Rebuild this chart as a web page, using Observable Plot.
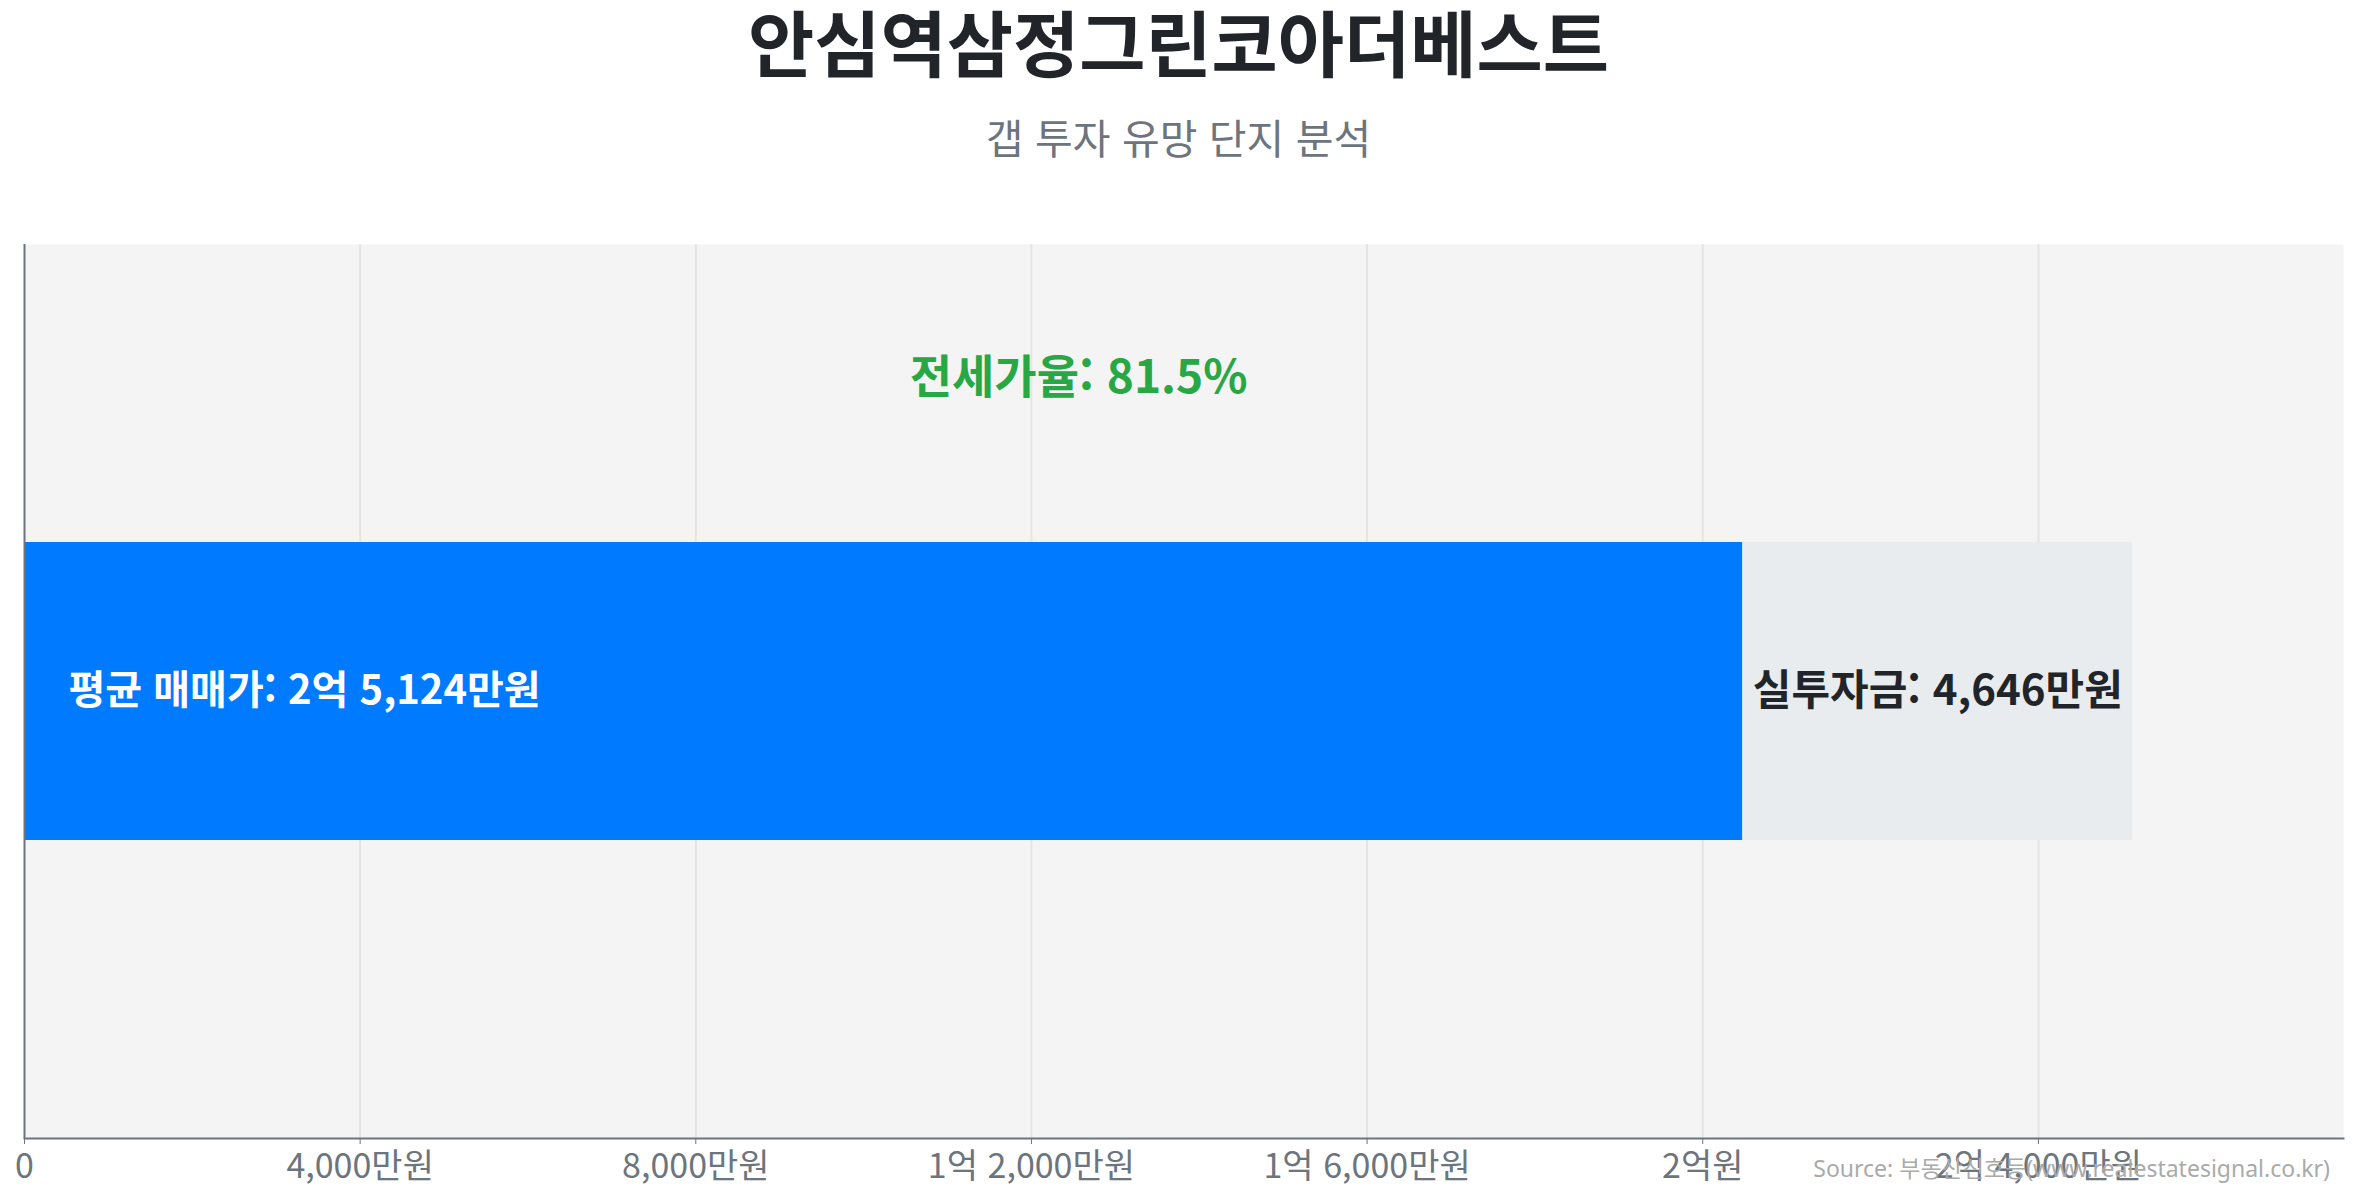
<!DOCTYPE html>
<html lang="ko">
<head>
<meta charset="utf-8">
<script src="https://cdn.jsdelivr.net/npm/d3@7"></script>
<script src="https://cdn.jsdelivr.net/npm/@observablehq/plot@0.6"></script>
<style>
  html, body { margin: 0; padding: 0; background: #ffffff; overflow: hidden; }
  body { width: 2357px; height: 1200px; position: relative;
         font-family: "Noto Sans CJK KR", "Noto Sans", sans-serif; }
  #title { position: absolute; left: 0; width: 2357px; top: 0px; text-align: center;
           font-size: 72px; font-weight: 700; color: #212529; line-height: 80px; }
  #subtitle { position: absolute; left: 0; width: 2357px; top: 111px; text-align: center;
           font-size: 41px; font-weight: 400; color: #6c757d; line-height: 50px; }
  #chart { position: absolute; left: 0; top: 200px; }
  #source { position: absolute; right: 27px; top: 1150px; font-size: 23px; color: #aaaaaa;
           font-family: "Noto Sans", "Noto Sans CJK KR", sans-serif; }
</style>
</head>
<body>
<div id="title">안심역삼정그린코아더베스트</div>
<div id="subtitle">갭 투자 유망 단지 분석</div>
<div id="chart"></div>
<div id="source">Source: 부동산신호등(www.realestatesignal.co.kr)</div>
<script>
// ---- data (단위: 만원) ----
const complexNames = ["안심역삼정그린코아더베스트"];
const salePrices = [25124];      // 평균 매매가
const jeonsePrices = [20478];    // 평균 전세가
const gapAmounts = [4646];       // 실투자금
const jeonseRatios = [81.5];     // 전세가율 (%)
const xTicks = [0, 4000, 8000, 12000, 16000, 20000, 24000];
const xMax = 27636;

const fmtWon = (v) => {
  if (v === 0) return "0";
  const eok = Math.floor(v / 10000);
  const man = v % 10000;
  const manStr = man.toLocaleString("en-US");
  if (eok === 0) return manStr + "만원";
  if (man === 0) return eok + "억원";
  return eok + "억 " + manStr + "만원";
};

const segments = [];
const labels = [];
complexNames.forEach((name, i) => {
  segments.push({name, x1: 0, x2: jeonsePrices[i], part: "jeonse"});
  segments.push({name, x1: jeonsePrices[i], x2: salePrices[i], part: "gap"});
  labels.push({name, sale: salePrices[i], jeonse: jeonsePrices[i], gap: gapAmounts[i], ratio: jeonseRatios[i]});
});

const font = '"Noto Sans CJK KR", "Noto Sans", sans-serif';

const chart = Plot.plot({
  width: 2357,
  height: 1000,
  marginTop: 44,
  marginBottom: 62,
  marginLeft: 24,
  marginRight: 14,
  style: {fontFamily: font, background: "transparent", overflow: "visible"},
  x: {domain: [0, xMax], axis: null},
  y: {domain: complexNames, padding: 0.5, axis: null},
  marks: [
    Plot.frame({fill: "#f4f4f4", stroke: null}),
    Plot.gridX(xTicks.slice(1), {stroke: "#e4e4e4", strokeOpacity: 1, strokeWidth: 2}),
    Plot.barX(segments, {
      x1: "x1", x2: "x2", y: "name",
      fill: d => d.part === "jeonse" ? "#007bff" : "#e9ecef"
    }),
    Plot.text(labels, {
      x: () => 0, y: "name", dx: 44, textAnchor: "start",
      text: d => "평균 매매가: " + fmtWon(d.sale),
      fill: "#ffffff", fontSize: 40, fontWeight: 700
    }),
    Plot.text(labels, {
      x: d => (d.jeonse + d.sale) / 2, y: "name",
      text: d => "실투자금: " + fmtWon(d.gap),
      fill: "#212529", fontSize: 42, fontWeight: 700
    }),
    Plot.text(labels, {
      x: d => d.sale / 2, y: "name", dy: -313,
      text: d => "전세가율: " + d.ratio.toFixed(1) + "%",
      fill: "#28a745", fontSize: 46, fontWeight: 700
    }),
    Plot.ruleX([0], {stroke: "#6c757d", strokeWidth: 2}),
    Plot.frame({anchor: "bottom", stroke: "#6c757d", strokeWidth: 2}),
    Plot.axisX(xTicks, {
      tickFormat: fmtWon, tickSize: 6, tickPadding: 9,
      stroke: "#6c757d", fill: "#6c757d", fontSize: 34, label: null
    })
  ]
});
document.getElementById("chart").appendChild(chart);
</script>
</body>
</html>
